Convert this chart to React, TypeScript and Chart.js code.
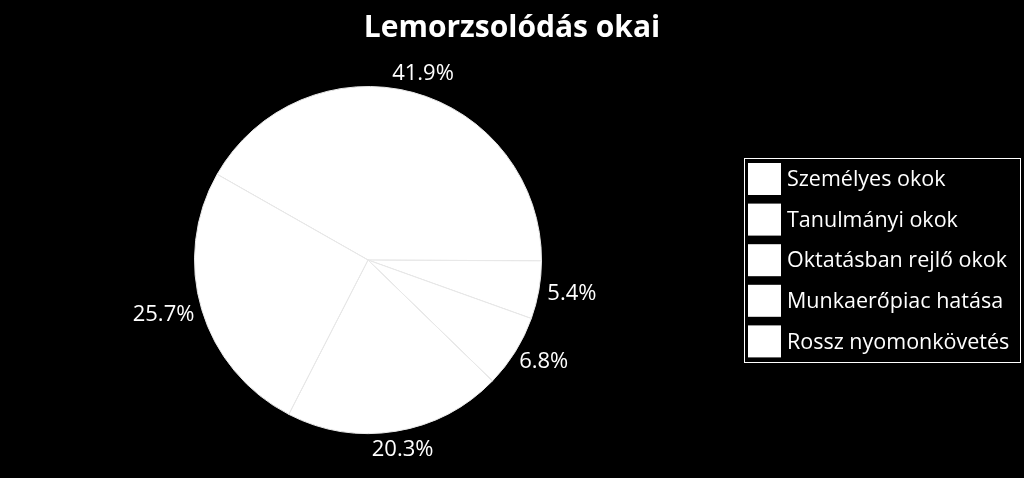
import { useEffect, useRef } from "react";
import { Chart, registerables, Plugin } from "chart.js";

Chart.register(...registerables);

const chartTitle = "Lemorzsolódás okai";
const categories = [
  "Személyes okok",
  "Tanulmányi okok",
  "Oktatásban rejlő okok",
  "Munkaerőpiac hatása",
  "Rossz nyomonkövetés",
];
const shares = [41.9, 5.4, 6.8, 20.3, 25.7];
const shareLabels = ["41.9%", "5.4%", "6.8%", "20.3%", "25.7%"];

const FONT = "'Open Sans', 'Noto Sans', sans-serif";

// title centred over the whole canvas, not the pie area
const pageTitle: Plugin<"pie"> = {
  id: "pageTitle",
  afterDraw(chart) {
    const ctx = chart.ctx;
    ctx.save();
    ctx.font = `bold 30px ${FONT}`;
    ctx.fillStyle = "#ffffff";
    ctx.textAlign = "center";
    ctx.textBaseline = "alphabetic";
    ctx.fillText(chartTitle, chart.width / 2, 37);
    ctx.restore();
  },
};

// percentage labels outside each slice
const outsideLabels: Plugin<"pie"> = {
  id: "outsideLabels",
  afterDatasetsDraw(chart) {
    const ctx = chart.ctx;
    const meta = chart.getDatasetMeta(0);
    ctx.save();
    ctx.font = `22px ${FONT}`;
    ctx.fillStyle = "#ffffff";
    ctx.textAlign = "center";
    ctx.textBaseline = "middle";
    meta.data.forEach((el: any, i) => {
      const mid = (el.startAngle + el.endAngle) / 2;
      const dx = Math.cos(mid);
      const dy = Math.sin(mid);
      const text = shareLabels[i];
      const w = ctx.measureText(text).width;
      const r = el.outerRadius + 9;
      const x = el.x + dx * r + dx * (w / 2);
      const y = el.y + dy * r + dy * 10;
      ctx.fillText(text, x, y);
    });
    ctx.restore();
  },
};

// boxed legend on the right
const boxedLegend: Plugin<"pie"> = {
  id: "boxedLegend",
  afterDraw(chart) {
    const ctx = chart.ctx;
    ctx.save();
    ctx.strokeStyle = "#ffffff";
    ctx.lineWidth = 1;
    ctx.strokeRect(744.5, 158.5, 276, 204);
    ctx.font = `21.5px ${FONT}`;
    ctx.textAlign = "left";
    ctx.textBaseline = "middle";
    categories.forEach((label, i) => {
      const top = 163 + i * 40.6;
      ctx.fillStyle = "#ffffff";
      ctx.fillRect(748, top, 33, 32);
      ctx.fillText(label, 787, top + 17);
    });
    ctx.restore();
  },
};

function PieChart() {
  const chartRef = useRef<HTMLCanvasElement>(null);
  const chartInstance = useRef<Chart | null>(null);

  useEffect(() => {
    if (!chartRef.current) return;
    if (chartInstance.current) chartInstance.current.destroy();

    chartInstance.current = new Chart(chartRef.current, {
      type: "pie",
      data: {
        labels: categories,
        datasets: [
          {
            data: shares,
            backgroundColor: "#ffffff",
            borderColor: "#e8e8e8",
            borderWidth: 1,
          },
        ],
      },
      options: {
        responsive: true,
        maintainAspectRatio: false,
        animation: false,
        rotation: -60.4,
        layout: {
          padding: { left: 194, right: 482, top: 86, bottom: 44 },
        },
        plugins: {
          legend: { display: false },
          tooltip: { enabled: false },
          title: { display: false },
        },
      },
      plugins: [outsideLabels, boxedLegend, pageTitle],
    });

    return () => {
      if (chartInstance.current) {
        chartInstance.current.destroy();
        chartInstance.current = null;
      }
    };
  }, []);

  return (
    <div
      style={{
        position: "fixed",
        left: 0,
        top: 0,
        width: 1024,
        height: 478,
        background: "#000000",
      }}
    >
      <canvas ref={chartRef} />
    </div>
  );
}

export default function App() {
  return <PieChart />;
}
